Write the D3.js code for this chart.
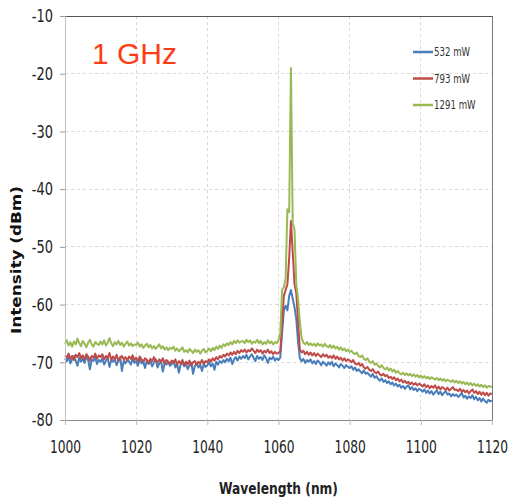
<!DOCTYPE html>
<html>
<head>
<meta charset="utf-8">
<script src="https://cdn.jsdelivr.net/npm/d3@7"></script>
<style>
  html, body { margin: 0; padding: 0; background: #fff; }
  svg { display: block; }
</style>
</head>
<body>
<svg id="chart" width="508" height="500"></svg>
<script>
// ---------------- DATA ----------------
const wavelengthStart = 1000;
const wavelengthStep = 0.5;   // sampling grid (nm)

const seriesNames = ["532 mW", "793 mW", "1291 mW"];
const seriesColors = ["#4a7ebb", "#be4b48", "#98b954"];

const power532 = [
-69.3,-69.8,-69.1,-70.2,-69.5,-68.9,-69.7,-70.6,-69.2,-69.9,-69.4,-70.1,-69.0,-69.6,-71.2,-69.5,-69.8,-69.1,-70.3,-69.6,
-69.9,-69.3,-70.4,-69.7,-69.2,-70.8,-69.6,-69.9,-69.4,-70.5,-69.8,-69.1,-71.5,-69.7,-70.2,-69.5,-69.9,-70.4,-69.3,-70.1,
-69.8,-70.6,-69.4,-70.2,-69.9,-71.0,-69.6,-70.3,-69.8,-70.7,-70.0,-69.5,-70.9,-70.2,-69.8,-71.6,-70.1,-70.4,-69.9,-70.6,
-70.3,-69.8,-70.9,-70.2,-71.8,-70.4,-70.0,-70.7,-70.3,-71.2,-70.5,-70.1,-72.0,-70.6,-70.2,-70.9,-70.4,-71.5,-70.3,-70.8,
-70.5,-70.0,-70.7,-70.2,-71.3,-69.9,-70.4,-69.8,-70.1,-69.6,-70.0,-69.4,-69.8,-69.2,-70.3,-69.5,-69.1,-69.7,-69.0,-69.4,
-68.9,-69.3,-68.7,-69.5,-69.0,-68.6,-69.2,-69.8,-68.9,-69.4,-69.1,-69.6,-68.8,-69.3,-70.1,-69.2,-69.5,-69.0,-69.7,-69.3,
-69.6,-69.2,-65.0,-61.0,-60.2,-61.0,-58.5,-57.5,-59.0,-60.5,-62.5,-66.5,-69.3,-69.8,-69.4,-70.1,-69.6,-69.9,-69.5,-70.2,
-69.8,-70.3,-69.7,-70.0,-70.5,-69.9,-70.2,-70.6,-70.0,-70.4,-69.9,-70.7,-70.2,-70.5,-70.9,-70.3,-70.6,-71.0,-70.5,-70.8,
-71.0,-70.7,-71.3,-70.9,-71.5,-71.2,-71.6,-71.9,-71.4,-72.0,-71.8,-72.2,-72.5,-72.0,-72.7,-72.4,-72.9,-73.2,-72.8,-73.4,
-73.1,-73.6,-73.3,-73.8,-73.5,-74.0,-73.7,-74.2,-73.9,-74.4,-74.1,-74.6,-74.2,-74.0,-74.7,-74.3,-74.8,-74.5,-75.0,-74.6,
-74.8,-75.1,-74.7,-75.3,-74.9,-75.4,-75.0,-75.6,-75.2,-74.9,-75.5,-75.1,-75.7,-75.3,-75.0,-75.6,-75.4,-75.9,-75.5,-75.8,
-75.6,-76.0,-75.7,-75.3,-76.1,-75.8,-76.3,-75.9,-76.2,-75.7,-76.4,-76.0,-76.6,-76.2,-76.8,-76.3,-76.7,-77.0,-76.5,-76.8,
-76.6
];

const power793 = [
-68.8,-69.2,-68.5,-69.4,-68.9,-69.6,-68.7,-69.1,-68.4,-69.3,-68.8,-69.5,-68.6,-69.0,-69.7,-68.9,-69.2,-68.5,-69.4,-68.8,
-69.1,-68.6,-69.5,-68.9,-69.3,-68.4,-69.6,-69.0,-69.4,-68.7,-69.8,-69.2,-68.9,-69.5,-69.1,-69.7,-69.0,-69.4,-68.8,-69.6,
-69.2,-69.8,-69.0,-69.5,-69.9,-69.3,-69.6,-70.1,-69.4,-69.8,-69.1,-69.7,-70.0,-69.5,-69.9,-69.3,-70.2,-69.6,-69.9,-70.3,
-69.7,-70.1,-69.5,-70.4,-69.8,-70.2,-69.6,-70.5,-69.9,-70.3,-69.7,-70.6,-70.0,-69.8,-70.4,-69.9,-70.2,-69.6,-70.3,-69.8,
-70.0,-69.5,-69.9,-69.3,-69.7,-69.1,-69.5,-68.9,-69.2,-68.7,-69.0,-68.5,-68.8,-68.3,-68.7,-68.2,-68.6,-68.0,-68.4,-67.9,
-68.2,-67.8,-68.3,-67.9,-68.1,-67.6,-68.0,-68.4,-67.8,-68.2,-67.9,-68.5,-68.0,-68.3,-67.8,-68.4,-68.1,-68.6,-68.2,-68.5,
-68.4,-68.0,-63.5,-58.5,-57.5,-56.5,-52.0,-45.5,-51.0,-56.5,-58.0,-63.0,-67.8,-68.3,-68.0,-68.6,-68.2,-68.7,-68.3,-68.8,
-68.4,-68.9,-68.5,-68.8,-69.1,-68.6,-69.0,-68.7,-69.2,-68.9,-69.3,-68.8,-69.4,-69.0,-69.5,-69.2,-69.7,-69.3,-69.8,-69.5,
-69.7,-70.0,-69.6,-70.2,-70.4,-70.1,-70.6,-70.3,-70.9,-71.1,-70.8,-71.3,-71.5,-71.2,-71.7,-71.9,-71.6,-72.1,-72.3,-72.0,
-72.4,-72.2,-72.7,-72.5,-72.9,-72.6,-73.1,-72.8,-73.3,-73.0,-73.5,-73.2,-73.6,-73.4,-73.8,-73.5,-73.9,-73.6,-74.0,-73.7,
-73.9,-74.2,-73.8,-74.3,-74.0,-74.5,-74.1,-74.4,-74.0,-74.6,-74.2,-74.7,-74.3,-74.5,-74.8,-74.4,-74.9,-74.6,-74.3,-74.8,
-74.7,-75.0,-74.6,-75.1,-74.8,-75.2,-74.9,-75.4,-75.0,-74.7,-75.3,-75.0,-75.5,-75.1,-75.6,-75.2,-75.7,-75.3,-75.8,-75.4,
-75.5
];

const power1291 = [
-66.8,-66.2,-67.1,-66.5,-67.3,-66.4,-66.9,-65.9,-66.7,-67.2,-66.3,-66.8,-67.4,-66.6,-66.1,-66.9,-67.3,-66.5,-66.8,-67.0,
-66.4,-66.9,-66.2,-67.1,-66.6,-65.8,-66.7,-67.2,-66.5,-66.9,-66.3,-67.0,-66.6,-67.3,-66.8,-66.4,-67.1,-66.7,-67.2,-66.9,
-67.0,-66.6,-67.3,-66.9,-67.5,-67.1,-66.8,-67.4,-67.0,-67.6,-67.2,-67.7,-67.3,-66.9,-67.6,-67.2,-67.8,-67.4,-67.9,-67.5,
-67.7,-67.3,-68.0,-67.6,-68.1,-67.8,-67.4,-68.2,-67.9,-68.3,-67.7,-68.0,-68.4,-67.8,-68.2,-67.9,-68.5,-68.0,-67.7,-68.3,
-68.0,-67.6,-68.1,-67.5,-67.9,-67.3,-67.7,-67.1,-67.5,-66.9,-67.2,-66.7,-67.0,-66.5,-66.9,-66.3,-66.7,-66.2,-66.6,-66.4,
-66.3,-66.7,-66.1,-66.5,-66.2,-66.8,-66.4,-66.6,-66.1,-66.7,-66.3,-66.9,-66.5,-66.8,-66.2,-66.7,-66.4,-66.9,-66.5,-66.7,
-66.2,-65.0,-57.5,-57.0,-55.5,-43.5,-44.0,-19.0,-46.0,-47.0,-56.5,-59.0,-63.0,-65.8,-66.6,-66.9,-66.5,-67.0,-66.7,-67.1,
-66.8,-67.2,-66.7,-67.1,-66.9,-67.3,-66.8,-67.2,-67.4,-67.0,-67.5,-67.1,-67.6,-67.3,-67.8,-67.4,-67.9,-67.6,-68.1,-67.8,
-68.2,-68.0,-68.4,-68.6,-68.3,-68.9,-69.1,-68.8,-69.4,-69.6,-69.3,-69.9,-70.1,-69.8,-70.4,-70.2,-70.6,-70.9,-70.5,-71.0,
-71.2,-70.9,-71.4,-71.1,-71.6,-71.3,-71.8,-71.5,-71.9,-72.1,-71.8,-72.2,-71.9,-72.3,-72.0,-72.4,-72.1,-72.5,-72.2,-72.6,
-72.3,-72.7,-72.4,-72.8,-72.5,-72.9,-72.6,-72.8,-73.0,-72.7,-73.1,-72.8,-73.2,-72.9,-73.3,-73.0,-73.2,-73.4,-73.1,-73.5,
-73.2,-73.6,-73.3,-73.7,-73.4,-73.8,-73.5,-73.9,-73.6,-74.0,-73.7,-74.1,-73.8,-74.2,-73.9,-74.3,-74.0,-74.4,-74.1,-74.2,
-74.3
];

const xTicks = [1000, 1020, 1040, 1060, 1080, 1100, 1120];
const xTickLabels = ["1000", "1020", "1040", "1060", "1080", "1100", "1120"];
const yTicks = [-10, -20, -30, -40, -50, -60, -70, -80];
const yTickLabels = ["-10", "-20", "-30", "-40", "-50", "-60", "-70", "-80"];

const titleText = "1 GHz";
const xTitle = "Wavelength (nm)";
const yTitle = "Intensity (dBm)";

// ---------------- CHART ----------------
const W = 508, H = 500;
const margin = { top: 16, right: 16, bottom: 80, left: 65 };
const svg = d3.select("#chart");
const x = d3.scaleLinear().domain([1000, 1120]).range([margin.left, W - margin.right]);
const y = d3.scaleLinear().domain([-80, -10]).range([H - margin.bottom, margin.top]);

const narrow = "'Liberation Sans Narrow', 'DejaVu Sans Condensed', 'Arial Narrow', sans-serif";
const squeeze = 0.8;

// grid
svg.append("g").selectAll("line").data(yTicks.filter(d => d > -80 && d < -10)).join("line")
  .attr("x1", x(1000)).attr("x2", x(1120))
  .attr("y1", d => y(d)).attr("y2", d => y(d))
  .attr("stroke", "#d9d9d9").attr("stroke-width", 1).attr("stroke-dasharray", "3,3")
  .attr("shape-rendering", "crispEdges");
svg.append("g").selectAll("line").data(xTicks.filter(d => d > 1000 && d < 1120)).join("line")
  .attr("x1", d => x(d)).attr("x2", d => x(d))
  .attr("y1", y(-10)).attr("y2", y(-80))
  .attr("stroke", "#d9d9d9").attr("stroke-width", 1).attr("stroke-dasharray", "3,3")
  .attr("shape-rendering", "crispEdges");

// frame (top & right)
svg.append("line").attr("x1", x(1000)).attr("x2", x(1120)).attr("y1", y(-10)).attr("y2", y(-10))
  .attr("stroke", "#555").attr("stroke-width", 1).attr("shape-rendering", "crispEdges");
svg.append("line").attr("x1", x(1120)).attr("x2", x(1120)).attr("y1", y(-10)).attr("y2", y(-80))
  .attr("stroke", "#777").attr("stroke-width", 1).attr("shape-rendering", "crispEdges");

// series
const wavelengths = power532.map((_, i) => wavelengthStart + i * wavelengthStep);
const series = [power532, power793, power1291];
const line = d3.line().x((d, i) => x(wavelengths[i])).y(d => y(d));
const gLines = svg.append("g");
series.forEach((s, k) => {
  gLines.append("path").datum(s)
    .attr("d", line)
    .attr("fill", "none")
    .attr("stroke", seriesColors[k])
    .attr("stroke-width", 2)
    .attr("stroke-linejoin", "round");
});

// axes
const yAxis = d3.axisLeft(y).tickValues(yTicks).tickFormat((d, i) => yTickLabels[i]).tickSize(5).tickPadding(7);
const gy = svg.append("g").attr("transform", `translate(${x(1000)},0)`).call(yAxis);
gy.select(".domain").attr("stroke", "#bfbfbf");
gy.selectAll(".tick line").attr("stroke", "#999");
gy.selectAll("text").attr("font-family", narrow).attr("font-size", 18).attr("fill", "#222")
  .attr("x", -12 / squeeze).attr("transform", `scale(${squeeze},1)`);

const xAxis = d3.axisBottom(x).tickValues(xTicks).tickFormat((d, i) => xTickLabels[i]).tickSize(5).tickPadding(16);
const gx = svg.append("g").attr("transform", `translate(0,${y(-80)})`).call(xAxis);
gx.select(".domain").attr("stroke", "#888");
gx.selectAll(".tick line").attr("stroke", "#bbb");
gx.selectAll("text").attr("font-family", narrow).attr("font-size", 17).attr("fill", "#222")
  .attr("transform", `scale(${squeeze},1)`);

// axis titles
svg.append("text").attr("transform", `translate(${(x(1000) + x(1120)) / 2},494) scale(0.85,1)`)
  .attr("text-anchor", "middle").attr("font-family", narrow).attr("font-weight", "bold")
  .attr("font-size", 16).attr("fill", "#222").text(xTitle);

svg.append("text").attr("transform", `translate(21,${(y(-10) + y(-80)) / 2 + 42}) rotate(-90)`)
  .attr("text-anchor", "middle").attr("font-family", "'DejaVu Sans', sans-serif").attr("font-weight", "bold")
  .attr("font-size", 13.5).attr("fill", "#111")
  .attr("textLength", 148).attr("lengthAdjust", "spacingAndGlyphs")
  .text(yTitle);

// title
svg.append("text").attr("x", 92).attr("y", 64)
  .attr("font-family", "'Liberation Sans', Arial, sans-serif").attr("font-size", 30)
  .attr("fill", "#ff3c14").text(titleText);

// legend
const lg = svg.append("g");
seriesNames.forEach((name, k) => {
  const ly = 52 + k * 26.5;
  lg.append("line").attr("x1", 413).attr("x2", 433).attr("y1", ly).attr("y2", ly)
    .attr("stroke", seriesColors[k]).attr("stroke-width", 2.5);
  lg.append("text").attr("transform", `translate(434,${ly + 4}) scale(${squeeze},1)`)
    .attr("font-family", narrow).attr("font-size", 12).attr("fill", "#333").text(name);
});
</script>
</body>
</html>
